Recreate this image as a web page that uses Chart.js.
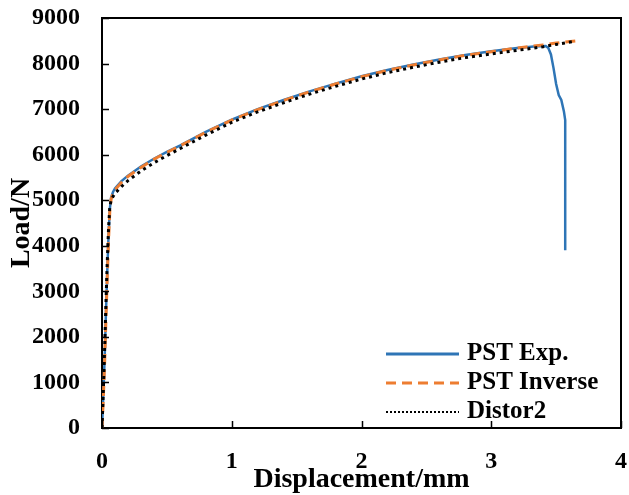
<!DOCTYPE html>
<html>
<head>
<meta charset="utf-8">
<script src="https://cdn.jsdelivr.net/npm/chart.js@4.4.1/dist/chart.umd.min.js"></script>
<style>
  html, body { margin: 0; padding: 0; background: #fff; }
  #wrap { width: 629px; height: 495px; position: relative; }
</style>
</head>
<body>
<div id="wrap"><canvas id="c" width="629" height="495"></canvas></div>
<script>
// ---- Data ----
const seriesLabels = ["PST Exp.", "PST Inverse", "Distor2"];
const xTicks = [0, 1, 2, 3, 4];
const yTicks = [0, 1000, 2000, 3000, 4000, 5000, 6000, 7000, 8000, 9000];

const expX = [0, 0.01, 0.02, 0.03, 0.04, 0.05, 0.06, 0.07, 0.085, 0.1, 0.15, 0.2, 0.3, 0.4, 0.5, 0.6, 0.8, 1.0, 1.2, 1.4, 1.6, 1.8, 2.0, 2.2, 2.4, 2.6, 2.8, 3.0, 3.2, 3.35, 3.42, 3.44, 3.46, 3.48, 3.5, 3.52, 3.54, 3.56, 3.57, 3.57];
const expY = [0, 700, 1500, 2500, 3400, 4200, 4800, 5060, 5180, 5260, 5420, 5540, 5740, 5910, 6060, 6200, 6500, 6770, 7000, 7200, 7390, 7560, 7720, 7860, 7980, 8090, 8190, 8270, 8340, 8380, 8385, 8340, 8200, 7900, 7550, 7310, 7200, 6950, 6760, 3900];

const invX = [0, 0.01, 0.02, 0.03, 0.04, 0.05, 0.06, 0.07, 0.085, 0.1, 0.15, 0.2, 0.3, 0.4, 0.5, 0.6, 0.8, 1.0, 1.2, 1.4, 1.6, 1.8, 2.0, 2.2, 2.4, 2.6, 2.8, 3.0, 3.2, 3.4, 3.5, 3.65];
const invY = [0, 650, 1400, 2350, 3250, 4100, 4750, 5020, 5150, 5230, 5390, 5520, 5720, 5900, 6050, 6190, 6490, 6760, 6990, 7190, 7380, 7550, 7710, 7850, 7970, 8080, 8180, 8260, 8340, 8410, 8450, 8495];

const disX = [0, 0.01, 0.02, 0.03, 0.04, 0.05, 0.06, 0.07, 0.085, 0.1, 0.15, 0.2, 0.3, 0.4, 0.5, 0.6, 0.8, 1.0, 1.2, 1.4, 1.6, 1.8, 2.0, 2.2, 2.4, 2.6, 2.8, 3.0, 3.2, 3.4, 3.5, 3.65];
const disY = [0, 800, 1700, 2700, 3600, 4350, 4850, 5000, 5080, 5150, 5300, 5430, 5640, 5820, 5980, 6130, 6430, 6710, 6940, 7140, 7330, 7500, 7660, 7800, 7920, 8030, 8130, 8210, 8290, 8370, 8420, 8490];

const colors = ["#2E75B6", "#ED7D31", "#000000"];

const toPts = (xs, ys) => xs.map((x, i) => ({ x: x, y: ys[i] }));

const serif = "'Liberation Serif', 'Times New Roman', serif";

// frame (top/right) + inward tick marks
const framePlugin = {
  id: 'frame',
  afterDraw(chart) {
    const ctx = chart.ctx;
    const a = chart.chartArea;
    const xs = chart.scales.x, ys = chart.scales.y;
    ctx.save();
    ctx.strokeStyle = '#000';
    ctx.lineWidth = 2;
    ctx.beginPath();
    ctx.moveTo(a.left, a.top); ctx.lineTo(a.right, a.top); ctx.lineTo(a.right, a.bottom);
    ctx.stroke();
    ctx.lineWidth = 1.5;
    ctx.beginPath();
    xTicks.forEach(v => {
      const px = Math.round(xs.getPixelForValue(v)) + 0.5;
      ctx.moveTo(px, a.bottom); ctx.lineTo(px, a.bottom - 7);
    });
    yTicks.forEach(v => {
      const py = Math.round(ys.getPixelForValue(v)) + 0.5;
      ctx.moveTo(a.left, py); ctx.lineTo(a.left + 7, py);
    });
    ctx.stroke();
    ctx.restore();
  }
};

// legend drawn inside the plot area
const legendPlugin = {
  id: 'insideLegend',
  afterDraw(chart) {
    const ctx = chart.ctx;
    const x0 = 386, x1 = 459, tx = 467;
    const rows = [354, 383, 412];
    ctx.save();
    chart.data.datasets.forEach((ds, i) => {
      const y = rows[i];
      ctx.strokeStyle = ds.borderColor;
      ctx.lineWidth = i === 2 ? 2 : 3;
      ctx.setLineDash(i === 2 ? [2, 2] : (ds.borderDash || []));
      ctx.beginPath();
      ctx.moveTo(x0, y); ctx.lineTo(x1, y);
      ctx.stroke();
      ctx.setLineDash([]);
      ctx.fillStyle = '#000';
      ctx.font = "bold 25px " + serif;
      ctx.textBaseline = 'middle';
      ctx.textAlign = 'left';
      ctx.fillText(ds.label, tx, y);
    });
    ctx.restore();
  }
};

new Chart(document.getElementById('c'), {
  type: 'line',
  data: {
    datasets: [
      { label: seriesLabels[0], data: toPts(expX, expY), order: 2, borderColor: colors[0], borderWidth: 2.5, pointRadius: 0, tension: 0, fill: false },
      { label: seriesLabels[1], data: toPts(invX, invY), order: 1, borderColor: colors[1], borderWidth: 3, borderDash: [10, 6], pointRadius: 0, tension: 0, fill: false },
      { label: seriesLabels[2], data: toPts(disX, disY), order: 0, borderColor: colors[2], borderWidth: 3, borderDash: [3, 4], pointRadius: 0, tension: 0, fill: false }
    ]
  },
  options: {
    responsive: false,
    animation: false,
    layout: { padding: { top: 18, right: 8, bottom: 0, left: 0 } },
    plugins: { legend: { display: false }, tooltip: { enabled: false } },
    scales: {
      x: {
        type: 'linear', min: 0, max: 4,
        afterBuildTicks: s => { s.ticks = xTicks.map(v => ({ value: v })); },
        afterFit: s => { s.height = 67; s.paddingLeft = 0; s.paddingRight = 0; },
        grid: { display: true, drawOnChartArea: false, drawTicks: false },
        border: { display: true, color: '#000', width: 2 },
        ticks: { color: '#000', padding: 19, font: { family: serif, size: 24, weight: 'bold' }, maxRotation: 0 },
        title: { display: true, text: 'Displacement/mm', color: '#000', font: { family: serif, size: 28, weight: 'bold', lineHeight: 1.1 }, padding: { top: 0, bottom: 0 } }
      },
      y: {
        type: 'linear', min: 0, max: 9000,
        afterBuildTicks: s => { s.ticks = yTicks.map(v => ({ value: v })); },
        afterFit: s => { s.width = 102; s.paddingTop = 0; s.paddingBottom = 0; },
        grid: { display: true, drawOnChartArea: false, drawTicks: false },
        border: { display: true, color: '#000', width: 2 },
        ticks: { color: '#000', padding: 22, font: { family: serif, size: 24, weight: 'bold' }, callback: v => String(v) },
        title: { display: true, text: 'Load/N', color: '#000', font: { family: serif, size: 28, weight: 'bold', lineHeight: 1.1 }, padding: { top: 6, bottom: 0 } }
      }
    }
  },
  plugins: [framePlugin, legendPlugin]
});
</script>
</body>
</html>
